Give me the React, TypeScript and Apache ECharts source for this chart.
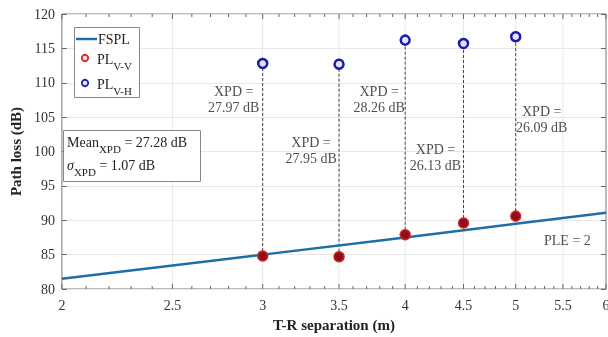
import React, { useEffect, useRef } from 'react';
import * as echarts from 'echarts';

const xTickValues = [2, 2.5, 3, 3.5, 4, 4.5, 5, 5.5, 6];
const xTickLabels = ['2', '2.5', '3', '3.5', '4', '4.5', '5', '5.5', '6'];
const distances = [3, 3.5, 4, 4.5, 5];
const plVV = [84.8, 84.7, 87.9, 89.6, 90.6];
const plVH = [112.8, 112.7, 116.2, 115.7, 116.7];
const xpdValues = ['27.97', '27.95', '28.26', '26.13', '26.09'];
const xpdLabelY = [107.5, 100.1, 107.5, 99.2, 104.6];
const xpdLabelDx = [-29, -28, -26, -28, 26];
const fsplX = [2, 3, 4, 5, 6];
const fsplY = [81.5, 85.0, 87.5, 89.5, 91.1];
const pleLabel = { x: 5.55, y: 87.1, text: 'PLE = 2' };
const meanText = { mean: '27.28', sigma: '1.07' };

const SERIF = '"Liberation Serif", "Times New Roman", serif';
const FSPL_COLOR = '#1c6ea8';

export default function App() {
  const ref = useRef<HTMLDivElement>(null);
  useEffect(() => {
    if (!ref.current) return;
    const chart = echarts.init(ref.current, null, { renderer: 'svg' });

    const tickData: number[][] = [];
    xTickValues.forEach((v, i) => tickData.push([v, 80, 1, i]));
    for (let k = 21; k < 60; k++) {
      const v = k / 10;
      if (k % 5 !== 0) tickData.push([v, 80, 0, -1]);
    }

    const option: any = {
      animation: false,
      grid: { left: 57, right: 2, top: 14, bottom: 48, show: true, borderColor: '#777', borderWidth: 1 },
      xAxis: {
        type: 'log', logBase: 10, min: 2, max: 6,
        axisLabel: { show: false }, axisTick: { show: false }, splitLine: { show: false },
        axisLine: { show: false },
        name: 'T-R separation (m)', nameLocation: 'middle', nameGap: 28,
        nameTextStyle: { fontFamily: SERIF, fontWeight: 'bold', fontSize: 15, color: '#222' },
      },
      yAxis: [
        {
          type: 'value', min: 80, max: 120, interval: 5,
          axisLine: { show: false },
          axisTick: { show: true, inside: true, length: 5, lineStyle: { color: '#666' } },
          axisLabel: { fontFamily: SERIF, fontSize: 14, color: '#333', margin: 7 },
          splitLine: { lineStyle: { color: '#e8e8e8' } },
          name: 'Path loss (dB)', nameLocation: 'middle', nameGap: 28, nameRotate: 90,
          nameTextStyle: { fontFamily: SERIF, fontWeight: 'bold', fontSize: 15, color: '#222' },
        },
        {
          type: 'value', min: 80, max: 120, interval: 5, position: 'right',
          axisLine: { show: false },
          axisTick: { show: true, inside: true, length: 5, lineStyle: { color: '#666' } },
          axisLabel: { show: false }, splitLine: { show: false },
        },
      ],
      series: [
        {
          type: 'custom', z: 1, silent: true,
          data: tickData, encode: { x: 0, y: 1 },
          renderItem: (params: any, api: any) => {
            const x = api.value(0);
            const major = api.value(2) === 1;
            const idx = api.value(3);
            const b = api.coord([x, 80]);
            const t = api.coord([x, 120]);
            const len = major ? 5 : 3;
            const children: any[] = [];
            if (major && x > 2 && x < 6) {
              children.push({ type: 'line', shape: { x1: b[0], y1: b[1], x2: t[0], y2: t[1] }, style: { stroke: '#e8e8e8', lineWidth: 1 } });
            }
            children.push({ type: 'line', shape: { x1: b[0], y1: b[1], x2: b[0], y2: b[1] - len }, style: { stroke: '#666', lineWidth: 1 } });
            children.push({ type: 'line', shape: { x1: t[0], y1: t[1], x2: t[0], y2: t[1] + len }, style: { stroke: '#666', lineWidth: 1 } });
            if (major) {
              children.push({ type: 'text', style: { text: xTickLabels[idx], x: b[0], y: b[1] + 9, align: 'center', verticalAlign: 'top', font: '14px ' + SERIF, fill: '#333' } });
            }
            return { type: 'group', children };
          },
        },
        {
          type: 'custom', z: 2, silent: true,
          data: distances.map((d, i) => [d, plVV[i], plVH[i]]), encode: { x: 0, y: [1, 2] },
          renderItem: (params: any, api: any) => {
            const p1 = api.coord([api.value(0), api.value(1)]);
            const p2 = api.coord([api.value(0), api.value(2)]);
            return { type: 'line', shape: { x1: p1[0], y1: p1[1], x2: p2[0], y2: p2[1] }, style: { stroke: '#444', lineWidth: 1, lineDash: [3, 2] } };
          },
        },
        {
          name: 'FSPL', type: 'line', z: 3, symbol: 'none',
          data: fsplX.map((x, i) => [x, fsplY[i]]),
          lineStyle: { color: FSPL_COLOR, width: 2.5 },
        },
        {
          name: 'PL V-V', type: 'scatter', z: 4, symbol: 'circle', symbolSize: 10,
          data: distances.map((d, i) => [d, plVV[i]]),
          itemStyle: { color: '#8a1016', borderColor: '#d42424', borderWidth: 1.5, opacity: 1 },
        },
        {
          name: 'PL V-H', type: 'scatter', z: 4, symbol: 'circle', symbolSize: 9,
          data: distances.map((d, i) => [d, plVH[i]]),
          itemStyle: { color: '#e4e4ff', borderColor: '#1a1aa8', borderWidth: 2.5, opacity: 1 },
        },
        {
          type: 'scatter', z: 5, symbolSize: 0, silent: true,
          data: distances.map((d, i) => ({
            value: [d, xpdLabelY[i]],
            label: { offset: [xpdLabelDx[i], 0] },
          })),
          label: {
            show: true, position: 'inside', align: 'center', verticalAlign: 'middle',
            formatter: (p: any) => 'XPD =\n' + xpdValues[p.dataIndex] + ' dB',
            fontFamily: SERIF, fontSize: 14, lineHeight: 16, color: '#222',
          },
        },
        {
          type: 'scatter', z: 5, symbolSize: 0, silent: true,
          data: [[pleLabel.x, pleLabel.y]],
          label: {
            show: true, position: 'inside', align: 'center', verticalAlign: 'middle',
            formatter: pleLabel.text, fontFamily: SERIF, fontSize: 14, color: '#222',
          },
        },
      ],
      graphic: [
        { type: 'rect', z: 10, shape: { x: 74.5, y: 27.5, width: 65, height: 70 }, style: { fill: '#fff', stroke: '#888', lineWidth: 1 } },
        { type: 'line', z: 11, shape: { x1: 76, y1: 39, x2: 97, y2: 39 }, style: { stroke: FSPL_COLOR, lineWidth: 2.5 } },
        { type: 'text', z: 11, style: { text: 'FSPL', x: 98, y: 39, verticalAlign: 'middle', font: '14px ' + SERIF, fill: '#222' } },
        { type: 'circle', z: 11, shape: { cx: 85, cy: 58, r: 3.2 }, style: { fill: '#f4dede', stroke: '#d42424', lineWidth: 1.8 } },
        {
          type: 'text', z: 11,
          style: {
            text: '{m|PL}{s|V-V}', x: 97, y: 59, verticalAlign: 'middle',
            rich: {
              m: { fontFamily: SERIF, fontSize: 14, lineHeight: 24, verticalAlign: 'middle', fill: '#222', color: '#222' },
              s: { fontFamily: SERIF, fontSize: 11, lineHeight: 10, verticalAlign: 'bottom', fill: '#222', color: '#222' },
            },
          },
        },
        { type: 'circle', z: 11, shape: { cx: 85, cy: 83, r: 3.2 }, style: { fill: '#e4e4ff', stroke: '#1a1aa8', lineWidth: 1.8 } },
        {
          type: 'text', z: 11,
          style: {
            text: '{m|PL}{s|V-H}', x: 97, y: 84, verticalAlign: 'middle',
            rich: {
              m: { fontFamily: SERIF, fontSize: 14, lineHeight: 24, verticalAlign: 'middle', fill: '#222', color: '#222' },
              s: { fontFamily: SERIF, fontSize: 11, lineHeight: 10, verticalAlign: 'bottom', fill: '#222', color: '#222' },
            },
          },
        },
        { type: 'rect', z: 10, shape: { x: 63.5, y: 130.5, width: 137, height: 51 }, style: { fill: '#fff', stroke: '#888', lineWidth: 1 } },
        {
          type: 'text', z: 11,
          style: {
            text: '{m|Mean}{s|XPD}{m| = ' + meanText.mean + ' dB}\n{i|σ}{s|XPD}{m| = ' + meanText.sigma + ' dB}',
            x: 67, y: 131, verticalAlign: 'top',
            rich: {
              m: { fontFamily: SERIF, fontSize: 14, lineHeight: 23, verticalAlign: 'middle', fill: '#222', color: '#222' },
              i: { fontFamily: SERIF, fontSize: 14, fontStyle: 'italic', lineHeight: 23, verticalAlign: 'middle', fill: '#222', color: '#222' },
              s: { fontFamily: SERIF, fontSize: 11, lineHeight: 9, verticalAlign: 'bottom', fill: '#222', color: '#222' },
            },
          },
        },
      ],
    };
    chart.setOption(option);
    return () => chart.dispose();
  }, []);
  return <div ref={ref} style={{ position: 'fixed', left: 0, top: 0, width: 608, height: 337 }} />;
}
